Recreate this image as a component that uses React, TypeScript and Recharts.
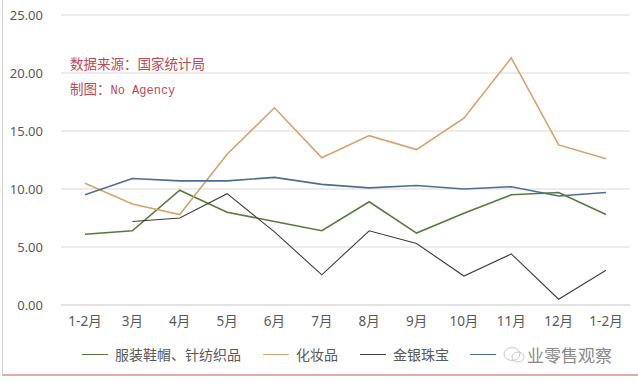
import React from 'react';
import { LineChart, Line, XAxis, YAxis, CartesianGrid } from 'recharts';

const months = ['1-2月', '3月', '4月', '5月', '6月', '7月', '8月', '9月', '10月', '11月', '12月', '1-2月'];
const apparel = [6.1, 6.4, 9.9, 8.0, 7.2, 6.4, 8.9, 6.2, 7.9, 9.5, 9.7, 7.8];
const cosmetics = [10.5, 8.7, 7.8, 13.0, 17.0, 12.7, 14.6, 13.4, 16.1, 21.3, 13.8, 12.6];
const jewelry = [null, 7.2, 7.5, 9.6, 6.3, 2.6, 6.4, 5.3, 2.5, 4.4, 0.5, 3.0];
const total = [9.5, 10.9, 10.7, 10.7, 11.0, 10.4, 10.1, 10.3, 10.0, 10.2, 9.4, 9.7];
const yTicks = [0, 5, 10, 15, 20, 25];

const data = months.map((m, i) => ({
  month: m + '#' + i,
  apparel: apparel[i],
  cosmetics: cosmetics[i],
  jewelry: jewelry[i],
  total: total[i],
}));

const series = [
  { key: 'apparel', name: '服装鞋帽、针纺织品', color: '#587a3e', width: 1.6 },
  { key: 'cosmetics', name: '化妆品', color: '#d6a26c', width: 1.6 },
  { key: 'jewelry', name: '金银珠宝', color: '#3c3c3c', width: 1.1 },
  { key: 'total', name: '社会消费品零售总额', color: '#4e6e90', width: 1.6 },
];

const font = '"Noto Sans", "Noto Sans CJK SC", sans-serif';

export default function App() {
  return (
    <div style={{ position: 'relative', width: 638, height: 389, background: '#fff', fontFamily: font }}>
      <style>{`body{margin:0}`}</style>
      {/* frame */}
      <div style={{ position: 'absolute', left: 2, top: 0, width: 636, height: 374, borderLeft: '1px solid #d4d4d4', borderBottom: '2px solid #e2a9b0' }} />
      <LineChart width={638} height={389} data={data} margin={{ top: 15, right: 8, left: 0, bottom: 54 }}>
        <CartesianGrid vertical={false} stroke="#d9d9d9" strokeWidth={1.2} />
        <XAxis
          dataKey="month"
          tickFormatter={(v: string) => v.split('#')[0]}
          axisLine={{ stroke: '#d9d9d9' }}
          tickLine={false}
          tickMargin={5}
          height={30}
          interval={0}
          padding={{ left: 24, right: 24 }}
          tick={{ fill: '#595959', fontSize: 13.5, fontFamily: font }}
        />
        <YAxis
          domain={[0, 25]}
          ticks={yTicks}
          width={61}
          axisLine={false}
          tickLine={false}
          tickMargin={12}
          tickFormatter={(v: number) => v.toFixed(2)}
          tick={{ fill: '#595959', fontSize: 13, fontFamily: font }}
        />
        {series.map((s) => (
          <Line
            key={s.key}
            type="linear"
            dataKey={s.key}
            name={s.name}
            stroke={s.color}
            strokeWidth={s.width}
            dot={false}
            isAnimationActive={false}
          />
        ))}
      </LineChart>
      {/* notes */}
      <div style={{ position: 'absolute', left: 70, top: 53, color: '#bd4a55', fontSize: 13.5, fontFamily: '"Noto Sans CJK SC", serif' }}>数据来源：国家统计局</div>
      <div style={{ position: 'absolute', left: 70, top: 78, color: '#bd4a55', fontSize: 13.5, fontFamily: '"Noto Sans CJK SC", serif' }}>
        制图：<span style={{ fontFamily: '"Liberation Mono", monospace', fontSize: 12 }}>No Agency</span>
      </div>
      {/* legend */}
      {series.map((s, i) => {
        const lefts = [82, 263, 360, 470];
        return (
          <div key={s.key} style={{ position: 'absolute', left: lefts[i], top: 344, display: 'flex', alignItems: 'center', height: 20 }}>
            <div style={{ width: 26, height: 0, borderTop: `${s.width}px solid ${s.color}`, marginRight: 7 }} />
            {i < 3 ? (
              <span style={{ color: '#595959', fontSize: 14 }}>{s.name}</span>
            ) : (
              <span style={{ color: '#8a8a8a', fontSize: 17, display: 'flex', alignItems: 'center' }}>
                <svg width={22} height={18} style={{ marginRight: 2 }}>
                  <ellipse cx={9} cy={9} rx={8} ry={6.5} fill="none" stroke="#c8c8c8" strokeWidth={1} />
                  <ellipse cx={15} cy={12} rx={6} ry={5} fill="none" stroke="#c8c8c8" strokeWidth={1} />
                </svg>
                业零售观察
              </span>
            )}
          </div>
        );
      })}
    </div>
  );
}
